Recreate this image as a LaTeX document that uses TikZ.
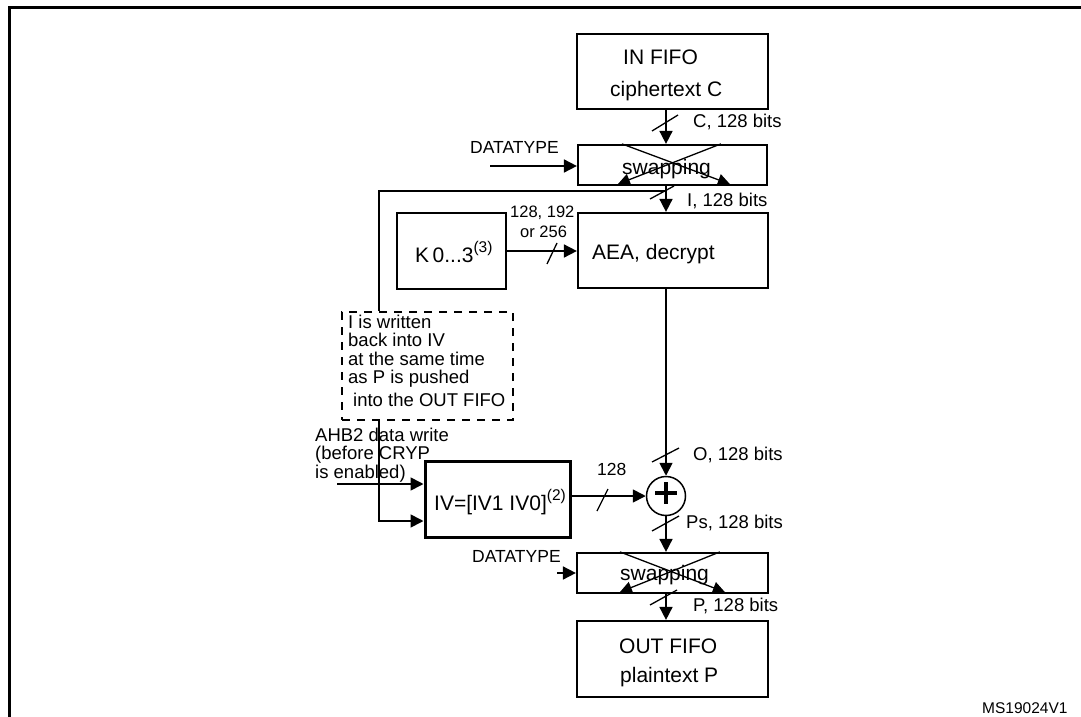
\documentclass[tikz,border=0pt]{standalone}
\usepackage{fontspec}
\setmainfont{Liberation Sans}
\usetikzlibrary{arrows.meta,calc}
\newcommand{\fs}[1]{\fontsize{#1}{#1}\selectfont}
\newcommand{\supx}[1]{\raisebox{10pt}{\fs{15.5}#1}}
\begin{document}
\begin{tikzpicture}[x=1pt,y=-1pt,
  box/.style={draw,line width=2.2pt,inner sep=0pt},
  wire/.style={line width=1.7pt},
  conn/.style={wire,-{Triangle[length=13pt,width=13pt]}},
  xarr/.style={line width=1.3pt,-{Triangle[length=12pt,width=12pt]}},
  slashln/.style={line width=1.3pt},
  big/.style={inner sep=0pt,anchor=base west,font=\fs{21}},
  lbl/.style={inner sep=0pt,anchor=base west,font=\fs{18.5}},
  sml/.style={inner sep=0pt,anchor=base west,font=\fs{17.5}}]
\useasboundingbox (0,0) rectangle (1081,717);
\draw[line width=3pt] (9.5,717) -- (9.5,7.5) -- (1081,7.5);

% boxes
\node[box,minimum width=191pt,minimum height=75pt] (in) at (672.5,71.5) {};
\node[box,minimum width=189pt,minimum height=40pt] (sw1) at (672.5,165) {};
\node[box,minimum width=190pt,minimum height=75pt] (aea) at (673,250.5) {};
\node[box,minimum width=109pt,minimum height=76pt] (key) at (451.5,251) {};
\node[draw,line width=2pt,dash pattern=on 8pt off 7pt,inner sep=0pt,minimum width=171pt,minimum height=108pt] (note) at (427.5,366) {};
\node[draw,line width=3pt,inner sep=0pt,minimum width=145pt,minimum height=76pt] (iv) at (497.5,499) {};
\node[draw,circle,line width=1.5pt,inner sep=0pt,minimum size=39pt] (xor) at (666,496) {};
\node[box,minimum width=191pt,minimum height=40pt] (sw2) at (672.5,573) {};
\node[box,minimum width=191pt,minimum height=76pt] (out) at (672.5,659) {};

% plus sign
\draw[line width=3.5pt] ($(xor.center)+(-11,-3)$) -- ($(xor.center)+(11,-3)$);
\draw[line width=3.5pt] ($(xor.center)+(0,-14)$) -- ($(xor.center)+(0,8)$);

% helper coordinates
\coordinate (ax) at (666,0);
\coordinate (fbj) at (666,191);
\coordinate (fbc) at (379,191);
\coordinate (ivin) at (379,521);
\coordinate (dt1) at (490,166);
\coordinate (dt2) at (557,573);
\coordinate (ahb) at (337,484);

% connectors
\draw[conn] (in.south -| ax) -- (sw1.north -| ax);
\draw[conn] (sw1.south -| ax) -- (aea.north -| ax);
\draw[wire] (fbj) -- (fbc) -- (note.north -| fbc);
\draw[conn] (note.south -| fbc) -- (ivin) -- (iv.west |- ivin);
\draw[conn] (dt1) -- (sw1.west |- dt1);
\draw[conn] (key.east) -- (aea.west |- key.east);
\draw[conn] (aea.south -| ax) -- (xor.north);
\draw[conn] (iv.east |- xor.west) -- (xor.west);
\draw[conn] (xor.south) -- (sw2.north -| ax);
\draw[conn] (dt2) -- (sw2.west |- dt2);
\draw[conn] (sw2.south -| ax) -- (out.north -| ax);
\draw[conn] (ahb) -- (iv.west |- ahb);

% swapping crosses
\draw[xarr] ($(sw1.north west)+(45,0)$) -- ($(sw1.south west)+(153,-2)$);
\draw[xarr] ($(sw1.north west)+(144,0)$) -- ($(sw1.south west)+(41,-2)$);
\draw[xarr] ($(sw2.north west)+(44,0)$) -- ($(sw2.south west)+(149,-2)$);
\draw[xarr] ($(sw2.north west)+(144,0)$) -- ($(sw2.south west)+(44,-2)$);

% bus slashes
\draw[slashln] (652,131) -- (678,115);
\draw[slashln] (650,199) -- (674,186);
\draw[slashln] (547,264) -- (557,243);
\draw[slashln] (597,511) -- (608,489);
\draw[slashln] (652,462) -- (679,448);
\draw[slashln] (652,531) -- (679,516);
\draw[slashln] (650,605) -- (677,590);

% texts
\node[big] (t1) at (623,64) {IN FIFO};
\node[big] (t2) at (610,96) {ciphertext C};
\node[lbl] (t3) at (693,127) {C, 128 bits};
\node[sml] (t4) at (470,153) {DATATYPE};
\node[big] (t5) at (622,174) {swapping};
\node[lbl] (t6) at (687,206) {I, 128 bits};
\node[inner sep=0pt,anchor=base west,font=\fs{16.5}] (t7) at (510,217) {128, 192};
\node[inner sep=0pt,anchor=base west,font=\fs{16.5}] (t8) at (520,237) {or 256};
\node[big] (t9) at (415,262) {K\,0...3\supx{(3)}};
\node[big] (t10) at (592,259) {AEA, decrypt};
\node[lbl] (t11) at (348,328) {I is written};
\node[lbl] (t12) at (348,346.5) {back into IV};
\node[lbl] (t13) at (348,365) {at the same time};
\node[lbl] (t14) at (348,383.5) {as P is pushed};
\node[lbl] (t15) at (353,406) {into the OUT FIFO};
\node[lbl] (t16) at (315,441) {AHB2 data write};
\node[lbl] (t17) at (315,459.5) {(before CRYP};
\node[lbl] (t18) at (315,478) {is enabled)};
\node[big] (t19) at (434,510) {IV=[IV1 IV0]\supx{(2)}};
\node[sml] (t20) at (597,475) {128};
\node[lbl] (t21) at (693,460) {O, 128 bits};
\node[lbl] (t22) at (686,528) {Ps, 128 bits};
\node[big] (t23) at (620,580) {swapping};
\node[sml] (t24) at (472,562) {DATATYPE};
\node[lbl] (t25) at (693,611) {P, 128 bits};
\node[big] (t26) at (619,653) {OUT FIFO};
\node[big] (t27) at (620,682) {plaintext P};
\node[inner sep=0pt,anchor=base west,font=\fs{15.5}] (t28) at (982,713.5) {MS19024V1};
\end{tikzpicture}
\end{document}
